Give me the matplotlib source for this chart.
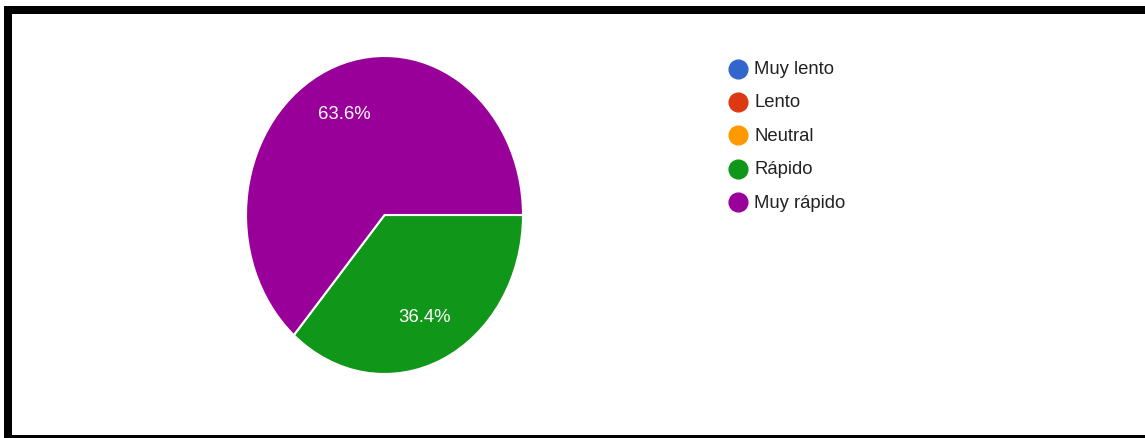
import matplotlib
matplotlib.use("Agg")
import matplotlib.pyplot as plt
from matplotlib.patches import Rectangle
from matplotlib.lines import Line2D

# Survey answers (counts per option)
categories = ["Muy lento", "Lento", "Neutral", "Rápido", "Muy rápido"]
counts = [0, 0, 0, 4, 7]
colors = ["#3366cc", "#dc3912", "#ff9900", "#109618", "#990099"]

W, H = 1145, 439
fig = plt.figure(figsize=(W / 100, H / 100), dpi=100)
fig.patch.set_facecolor("white")

FONT = "Liberation Sans"


def px_axes(x0, y0, x1, y1):
    """Axes rectangle given in pixel coords measured from top-left."""
    return [x0 / W, 1 - y1 / H, (x1 - x0) / W, (y1 - y0) / H]


# Pie (slightly stretched vertically)
ax = fig.add_axes(px_axes(246, 57, 523, 375))
total = sum(counts)


def pct_label(p):
    return f"{p:.1f}%" if p > 0.05 else ""


wedges, texts, autotexts = ax.pie(
    counts,
    colors=colors,
    startangle=0,
    counterclock=False,
    radius=1.0,
    autopct=pct_label,
    pctdistance=0.70,
    wedgeprops=dict(edgecolor="white", linewidth=1.5),
    textprops=dict(color="white", fontsize=13.3, family=FONT),
)
ax.set_aspect("auto")
ax.set_xlim(-1, 1)
ax.set_ylim(-1, 1)
ax.axis("off")

# Overlay in pixel coordinates for legend and frame
ov = fig.add_axes([0, 0, 1, 1])
ov.set_xlim(0, W)
ov.set_ylim(H, 0)
ov.axis("off")
ov.patch.set_alpha(0)

leg_x, leg_y0, leg_dy = 738, 69.5, 33.4
for i, (name, col) in enumerate(zip(categories, colors)):
    y = leg_y0 + i * leg_dy
    ov.add_line(Line2D([leg_x], [y], marker="o", markersize=13.5,
                       markerfacecolor=col, markeredgecolor=col, linestyle="none"))
    ov.text(leg_x + 16, y, name, fontsize=13.3, family=FONT, color="#222222",
            va="center", ha="left")

# Black frame (top, left, bottom)
ov.add_patch(Rectangle((4, 7), W - 4, 8, facecolor="black", edgecolor="none"))
ov.add_patch(Rectangle((4, 7), 8, H - 7, facecolor="black", edgecolor="none"))
ov.add_patch(Rectangle((4, 436), W - 4, 5, facecolor="black", edgecolor="none"))

fig.savefig("out.png", dpi=100, facecolor="white")
